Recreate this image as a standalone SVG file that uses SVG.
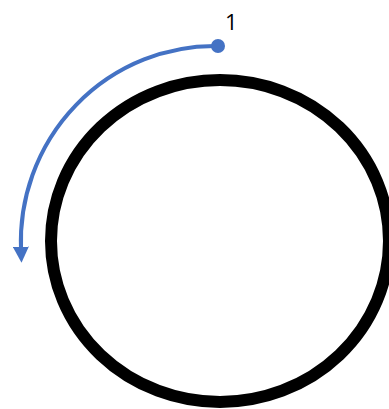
<svg xmlns="http://www.w3.org/2000/svg" width="389" height="409" viewBox="0 0 389 409">
<style>
.ring{fill:none;stroke:#000;stroke-width:12}
.conn{fill:none;stroke:#4472C4;stroke-width:4}
.lbl{font-family:"Open Sans","Liberation Sans",sans-serif;font-size:22px;fill:#000}
</style>
<defs>
<marker id="ah" viewBox="0 0 10 10" refX="2" refY="5" markerWidth="4" markerHeight="4" orient="auto" markerUnits="strokeWidth">
<path d="M0,0 L10,5 L0,10 Z" fill="#4472C4"/>
</marker>
</defs>
<g id="circle">
<ellipse class="ring" cx="220" cy="241" rx="169" ry="161"/>
</g>
<g id="connectors">
<path class="conn" d="M218,46 A194,196 0 0 0 21,250" marker-end="url(#ah)"/>
<circle cx="218" cy="46" r="7" fill="#4472C4"/>
</g>
<g id="label">
<text class="lbl" x="225" y="30">1</text>
</g>
</svg>
